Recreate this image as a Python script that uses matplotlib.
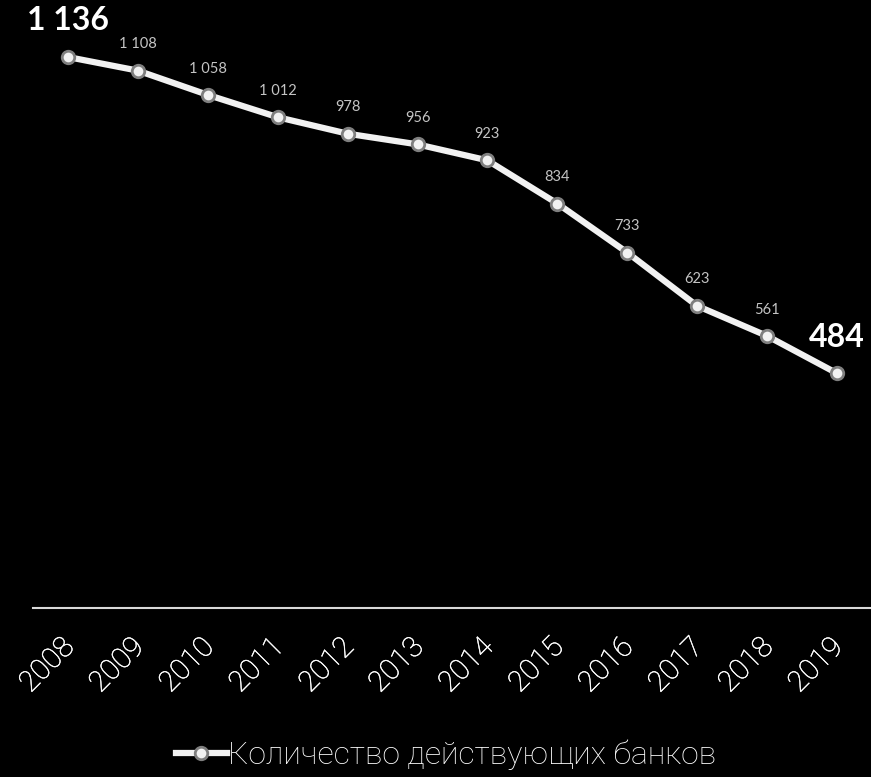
import matplotlib.pyplot as plt
import matplotlib.transforms as mtransforms
import matplotlib.patheffects as pe

years = ["2008", "2009", "2010", "2011", "2012", "2013",
         "2014", "2015", "2016", "2017", "2018", "2019"]
banks = [1136, 1108, 1058, 1012, 978, 956, 923, 834, 733, 623, 561, 484]
labels = ["1 136", "1 108", "1 058", "1 012", "978", "956",
          "923", "834", "733", "623", "561", "484"]
legendLabel = "Количество действующих банков"

fig = plt.figure(figsize=(8.71, 7.77), dpi=100, facecolor="black")
ax = fig.add_axes([0.038, 0.2175, 0.963, 0.749])
ax.set_facecolor("black")

x = list(range(len(years)))
ax.plot(x, banks, color="#f2f2f2", linewidth=4.5, marker="o", markersize=9,
        markerfacecolor="#f2f2f2", markeredgecolor="#7f7f7f",
        markeredgewidth=2, label=legendLabel, zorder=3)

for i, (v, t) in enumerate(zip(banks, labels)):
    if i == 0 or i == len(banks) - 1:
        ax.annotate(t, (i, v), xytext=(0, 26), textcoords="offset points",
                    ha="center", va="center", color="white", fontsize=23,
                    fontweight="bold", family="Lato")
    else:
        ax.annotate(t, (i, v), xytext=(0, 19), textcoords="offset points",
                    ha="center", va="center", color="#c4c4c4", fontsize=10.5,
                    family="Lato")

ax.set_xlim(-0.5, len(years) - 0.5)
ax.set_ylim(0, 1200)
ax.set_xticks(x)
ax.set_xticklabels(years, rotation=45, ha="right", rotation_mode="anchor",
                   fontsize=21, color="white", family="Roboto",
                   fontweight="light")
ax.tick_params(axis="x", length=0, pad=18)
shift = mtransforms.ScaledTranslation(-6 / 72, 0, fig.dpi_scale_trans)
for lab in ax.get_xticklabels():
    lab.set_transform(lab.get_transform() + shift)
    lab.set_path_effects([pe.withStroke(linewidth=0.3, foreground="white")])
ax.set_yticks([])
for s in ["top", "left", "right"]:
    ax.spines[s].set_visible(False)
ax.spines["bottom"].set_color("#d9d9d9")
ax.spines["bottom"].set_linewidth(1.5)

leg = fig.legend(loc="center", bbox_to_anchor=(0.512, 0.028), frameon=False,
                 handlelength=1.6, handletextpad=0.05,
                 prop={"family": "Roboto", "weight": "light", "size": 23})
for t in leg.get_texts():
    t.set_color("white")

fig.savefig("out.png", facecolor="black")
